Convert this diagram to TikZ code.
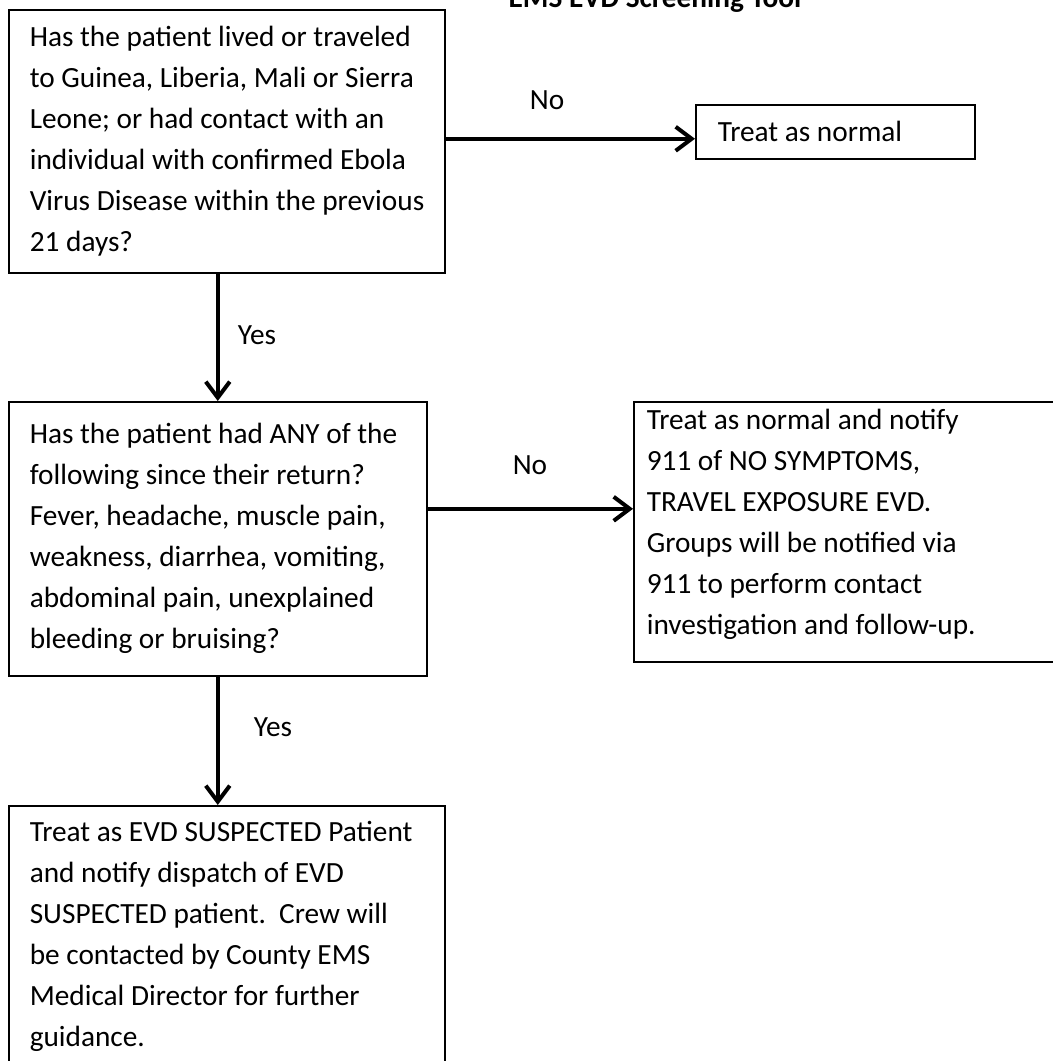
\documentclass[tikz,border=0pt]{standalone}
\usepackage{fontspec}
\setmainfont{Carlito}
\usetikzlibrary{arrows.meta}

\begin{document}
\begin{tikzpicture}[x=0.5pt,y=-0.5pt,
            every node/.style={font=\fontsize{14.65pt}{20.5pt}\selectfont},
            qbox/.style={draw,line width=0.8pt,align=flush left,anchor=north west,inner xsep=10.5pt,inner ysep=0pt},
            flow/.style={-{Straight Barb[length=8pt,width=12pt]},line width=2pt}]
            \useasboundingbox (0,0) rectangle (1053,1061);
            \node[font=\fontsize{14.65pt}{20.5pt}\selectfont\bfseries,anchor=base] at (655,7) (title) {EMS EVD Screening Tool};
            \node[qbox,minimum width=218pt,minimum height=131.5pt] at (8,9) (travel) {Has the patient lived or traveled\\to Guinea, Liberia, Mali or Sierra\\Leone; or had contact with an\\individual with confirmed Ebola\\Virus Disease within the previous\\21 days?};
            \node[qbox,text width=117.5pt,inner xsep=11pt,minimum height=27pt] at (695,104) (normal) {Treat as normal};
            \node[qbox,text width=188pt,minimum height=137pt] at (8,401) (symptoms) {Has the patient had ANY of the\\following since their return?\\Fever, headache, muscle pain,\\weakness, diarrhea, vomiting,\\abdominal pain, unexplained\\bleeding or bruising?};
            \node[qbox,text width=200.5pt,inner xsep=6.5pt,inner ysep=3.5pt,text depth=113pt] at (633,401) (notify) {Treat as normal and notify\\911 of NO SYMPTOMS,\\TRAVEL EXPOSURE EVD.\\Groups will be notified via\\911 to perform contact\\investigation and follow-up.};
            \node[qbox,text width=197pt,minimum height=131pt] at (8,805) (suspect) {Treat as EVD SUSPECTED Patient\\and notify dispatch of EVD\\SUSPECTED patient.\ \ Crew will\\be contacted by County EMS\\Medical Director for further\\guidance.};
            \node[] at (547,100) (no1) {No};
            \node[] at (257,335) (yes1) {Yes};
            \node[] at (530,465) (no2) {No};
            \node[] at (273,727) (yes2) {Yes};
            \draw[flow] ([yshift=1.25pt]travel.east) to ([yshift=1.25pt]travel.east -| normal.west);
            \draw[flow] (travel.south -| symptoms.north) to (symptoms.north);
            \draw[flow] ([yshift=15pt]symptoms.east) to ([yshift=15pt]symptoms.east -| notify.west);
            \draw[flow] (symptoms.south) to (symptoms.south |- suspect.north);
        \end{tikzpicture}
\end{document}
